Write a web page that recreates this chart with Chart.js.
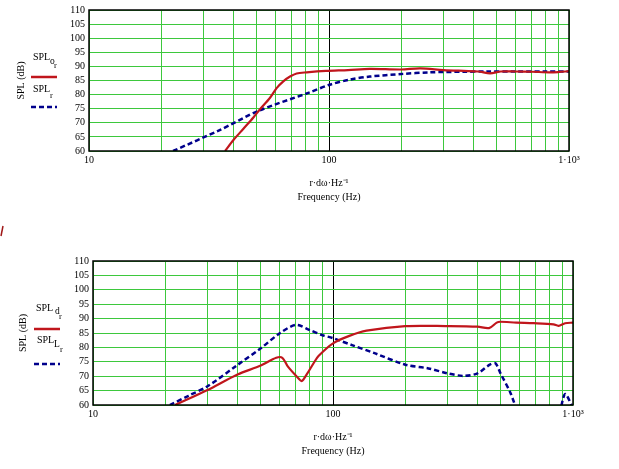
<!DOCTYPE html>
<html>
<head>
<meta charset="utf-8">
<script src="https://cdn.jsdelivr.net/npm/chart.js@4.4.1/dist/chart.umd.min.js"></script>
<style>
  body { margin: 0; background: #fff; }
  #page { position: relative; width: 619px; height: 469px; overflow: hidden; font-family: "Liberation Serif", "Times New Roman", serif; color: #000; }
  canvas { position: absolute; left: 0; }
  .t { position: absolute; font-size: 10px; line-height: 12px; white-space: nowrap; }
  .s { font-size: 9.5px; }
  .ss { font-size: 8.5px; }
  svg { position: absolute; }
</style>
</head>
<body>
<div id="page">
  <canvas id="topChart" width="619" height="210" style="top:0"></canvas>
  <canvas id="bottomChart" width="619" height="259" style="top:210px"></canvas>

  <!-- legend of the upper plot -->
  <div class="t" style="left:33px;top:51px">SPL</div>
  <div class="t s" style="left:50px;top:55px">o</div>
  <div class="t ss" style="left:54px;top:59px">r</div>
  <svg style="left:31px;top:75px" width="27" height="4"><line x1="0" y1="2" x2="26" y2="2" stroke="#c0161c" stroke-width="2.5"/></svg>
  <div class="t" style="left:33px;top:83px">SPL</div>
  <div class="t ss" style="left:50px;top:89px">r</div>
  <svg style="left:31px;top:105px" width="27" height="4"><line x1="0" y1="2" x2="26" y2="2" stroke="#00008c" stroke-width="2.5" stroke-dasharray="5 3"/></svg>

  <!-- legend of the lower plot -->
  <div class="t" style="left:36px;top:302px">SPL</div>
  <div class="t s" style="left:55px;top:305px">d</div>
  <div class="t ss" style="left:59px;top:310px">r</div>
  <svg style="left:34px;top:327px" width="27" height="4"><line x1="0" y1="2" x2="26" y2="2" stroke="#c0161c" stroke-width="2.5"/></svg>
  <div class="t" style="left:37px;top:334px">SPL</div>
  <div class="t s" style="left:54px;top:338px">L</div>
  <div class="t ss" style="left:60px;top:343px">r</div>
  <svg style="left:34px;top:362px" width="27" height="4"><line x1="0" y1="2" x2="26" y2="2" stroke="#00008c" stroke-width="2.5" stroke-dasharray="5 3"/></svg>

  <!-- stray red mark at the left edge -->
  <svg style="left:0;top:225px" width="5" height="12"><line x1="1" y1="11" x2="3" y2="1" stroke="#a01818" stroke-width="1.5"/></svg>
</div>

<script>
// axis ticks
const freqTicks = [10, 20, 30, 40, 50, 60, 70, 80, 90, 100, 200, 300, 400, 500, 600, 700, 800, 900, 1000];
const freqLabelValues = [10, 100, 1000];
const freqLabelText = ['10', '100', '1·10³'];
const splTicks = [60, 65, 70, 75, 80, 85, 90, 95, 100, 105, 110];

// upper plot: SPL o_r (red) and SPL_r (blue dashed)
const topRedFreq = [36.9, 39.9, 44, 48.4, 51.6, 56.8, 60.5, 64.5, 68.8, 73.3, 80.7, 97, 120, 148, 200, 240, 300, 363, 420, 469, 520, 600, 700, 830, 900, 1000];
const topRedSpl  = [60, 63.8, 67.9, 71.9, 74.8, 78.9, 82.3, 84.7, 86.4, 87.5, 87.9, 88.4, 88.7, 89.1, 88.9, 89.3, 88.7, 88.4, 88.2, 87.5, 88.2, 88.2, 88.1, 87.9, 88.0, 88.3];
const topBlueFreq = [22.4, 35.2, 50.7, 82, 100.5, 122, 148, 200, 263, 363, 450, 600, 800, 1000];
const topBlueSpl  = [60, 67.5, 74.2, 80.6, 83.5, 85.3, 86.4, 87.3, 87.9, 88.1, 88.2, 88.2, 88.2, 88.2];

// lower plot: SPL d_r (red) and SPL L_r (blue dashed)
const botRedFreq = [22, 30, 40, 50, 58, 61.5, 64.9, 71.7, 74.1, 77.7, 83, 87, 100, 117, 138, 200, 300, 400, 447, 481, 497, 580, 685, 830, 870, 927, 1000];
const botRedSpl  = [60, 65.2, 70.6, 73.7, 76.4, 76.4, 73.3, 69.3, 68.3, 70.6, 74.5, 77, 81.4, 84, 85.8, 87.4, 87.4, 87.2, 86.7, 88.6, 88.9, 88.6, 88.4, 88, 87.5, 88.4, 88.6];
const botBlueFreq = [20.9, 25, 30, 40, 50, 60, 70, 80, 90, 100, 120, 150, 200, 250, 300, 350, 400, 450, 475, 500, 550, 600, 750, 880, 927, 985, 1000];
const botBlueSpl  = [60, 63.2, 66.5, 73.9, 79.7, 84.9, 87.8, 86, 84.3, 83.2, 80.8, 77.9, 74, 72.7, 71, 70.1, 71, 74, 74.5, 70.8, 64, 55, null, 57, 63.8, 60, 58];

const RED = '#c0161c';
const BLUE = '#00008c';
const GREEN = '#3dc83d';

Chart.defaults.font.family = '"Liberation Serif", "Times New Roman", serif';
Chart.defaults.font.size = 10;
Chart.defaults.color = '#000';

function pts(xs, ys) {
  return xs.map((x, i) => ({ x: x, y: ys[i] }));
}

// black box around the plot area
const frame = {
  id: 'frame',
  afterDatasetsDraw(chart) {
    const a = chart.chartArea;
    const c = chart.ctx;
    c.save();
    c.strokeStyle = '#000';
    c.lineWidth = 1.5;
    c.strokeRect(a.left, a.top, a.right - a.left, a.bottom - a.top);
    c.restore();
  }
};

function makeChart(id, redData, blueData, box) {
  return new Chart(document.getElementById(id), {
    type: 'scatter',
    data: {
      datasets: [
        { label: 'red', data: redData, showLine: true, borderColor: RED, borderWidth: 2.2,
          pointRadius: 0, tension: 0.3, clip: 0 },
        { label: 'blue', data: blueData, showLine: true, borderColor: BLUE, borderWidth: 2.5,
          borderDash: [5, 3], pointRadius: 0, tension: 0.3, spanGaps: false, clip: 0 }
      ]
    },
    plugins: [frame],
    options: {
      responsive: false,
      animation: false,
      layout: { padding: { left: box.padLeft, right: box.padRight, top: box.padTop, bottom: 0 } },
      plugins: { legend: { display: false }, tooltip: { enabled: false } },
      scales: {
        x: {
          type: 'logarithmic',
          min: 10,
          max: 1000,
          afterBuildTicks: s => { s.ticks = freqTicks.map(v => ({ value: v })); },
          afterFit: s => { s.height = box.xHeight; },
          ticks: {
            autoSkip: false,
            maxRotation: 0,
            padding: 3,
            callback: v => {
              const i = freqLabelValues.indexOf(v);
              return i < 0 ? '' : freqLabelText[i];
            }
          },
          grid: { drawTicks: false, lineWidth: 1, color: ctx => (ctx.tick && ctx.tick.value === 100 ? '#000' : GREEN) },
          border: { display: false },
          title: {
            display: true,
            text: ['r·dω·Hz⁻¹', 'Frequency (Hz)'],
            font: { size: 10, lineHeight: 1.4 },
            padding: { top: 0, bottom: box.titlePad }
          }
        },
        y: {
          min: 60,
          max: 110,
          afterBuildTicks: s => { s.ticks = splTicks.map(v => ({ value: v })); },
          afterFit: s => { s.width = box.yWidth; },
          ticks: { padding: 4, autoSkip: false },
          grid: { drawTicks: false, lineWidth: 1, color: GREEN },
          border: { display: false },
          title: { display: true, text: 'SPL (dB)', font: { size: 10 }, padding: 0 }
        }
      }
    }
  });
}

makeChart('topChart', pts(topRedFreq, topRedSpl), pts(topBlueFreq, topBlueSpl),
  { padLeft: 15, padRight: 50, padTop: 7, yWidth: 74, xHeight: 59, titlePad: 6 });
makeChart('bottomChart', pts(botRedFreq, botRedSpl), pts(botBlueFreq, botBlueSpl),
  { padLeft: 17, padRight: 46, padTop: 51, yWidth: 76, xHeight: 64, titlePad: 11 });
</script>
</body>
</html>
